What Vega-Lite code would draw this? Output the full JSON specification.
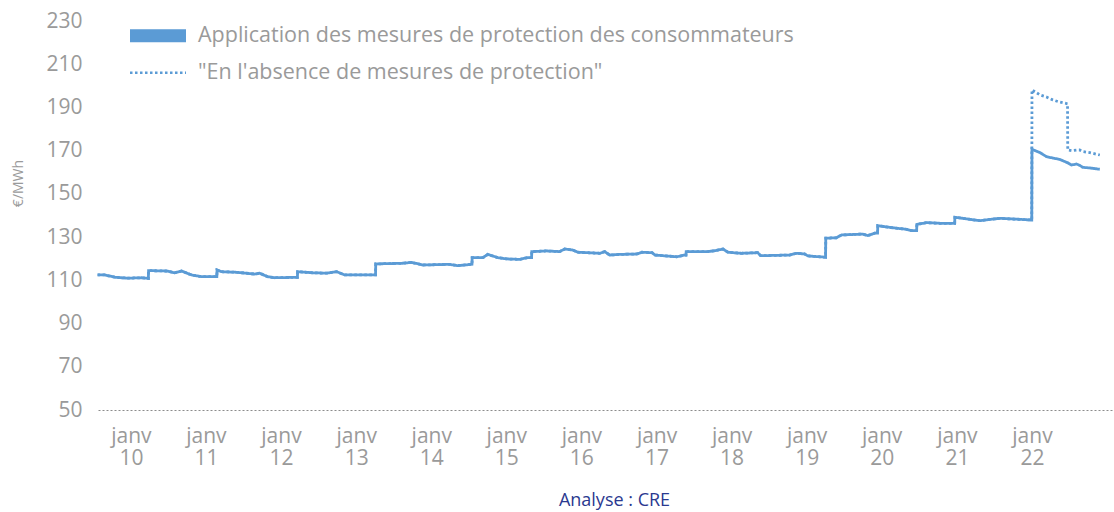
{
  "$schema": "https://vega.github.io/schema/vega-lite/v6.json",
  "width": 1016,
  "height": 389,
  "autosize": {"type": "none"},
  "padding": {"left": 98, "top": 21, "right": 0, "bottom": 102},
  "background": "white",
  "config": {"view": {"stroke": null}, "font": "Open Sans"},
  "data": {"values": [
    {"d": "2009-07-23", "A": 112.5, "B": 112.5},
    {"d": "2009-08-27", "A": 112.5, "B": 112.5},
    {"d": "2009-10-17", "A": 111.4, "B": 111.4},
    {"d": "2009-12-16", "A": 111.0, "B": 111.0},
    {"d": "2010-02-23", "A": 111.2, "B": 111.2},
    {"d": "2010-03-27", "A": 110.9, "B": 110.9},
    {"d": "2010-03-28", "A": 114.5, "B": 114.5},
    {"d": "2010-06-28", "A": 114.3, "B": 114.3},
    {"d": "2010-08-01", "A": 113.5, "B": 113.5},
    {"d": "2010-09-05", "A": 114.3, "B": 114.3},
    {"d": "2010-10-23", "A": 112.5, "B": 112.5},
    {"d": "2010-12-11", "A": 111.7, "B": 111.7},
    {"d": "2011-02-23", "A": 111.7, "B": 111.7},
    {"d": "2011-02-24", "A": 114.8, "B": 114.8},
    {"d": "2011-03-17", "A": 114.0, "B": 114.0},
    {"d": "2011-06-04", "A": 113.7, "B": 113.7},
    {"d": "2011-08-26", "A": 112.9, "B": 112.9},
    {"d": "2011-09-19", "A": 113.3, "B": 113.3},
    {"d": "2011-10-28", "A": 111.7, "B": 111.7},
    {"d": "2011-12-01", "A": 111.2, "B": 111.2},
    {"d": "2012-03-21", "A": 111.4, "B": 111.4},
    {"d": "2012-03-22", "A": 114.0, "B": 114.0},
    {"d": "2012-06-03", "A": 113.5, "B": 113.5},
    {"d": "2012-08-10", "A": 113.3, "B": 113.3},
    {"d": "2012-09-28", "A": 114.0, "B": 114.0},
    {"d": "2012-11-06", "A": 112.5, "B": 112.5},
    {"d": "2013-04-05", "A": 112.5, "B": 112.5},
    {"d": "2013-04-06", "A": 117.6, "B": 117.6},
    {"d": "2013-08-15", "A": 117.9, "B": 117.9},
    {"d": "2013-09-28", "A": 118.3, "B": 118.3},
    {"d": "2013-11-21", "A": 117.1, "B": 117.1},
    {"d": "2014-03-31", "A": 117.4, "B": 117.4},
    {"d": "2014-05-09", "A": 116.8, "B": 116.8},
    {"d": "2014-07-18", "A": 117.4, "B": 117.4},
    {"d": "2014-07-19", "A": 120.5, "B": 120.5},
    {"d": "2014-09-09", "A": 120.5, "B": 120.5},
    {"d": "2014-10-03", "A": 122.0, "B": 122.0},
    {"d": "2014-11-21", "A": 120.5, "B": 120.5},
    {"d": "2015-01-04", "A": 119.9, "B": 119.9},
    {"d": "2015-03-06", "A": 119.7, "B": 119.7},
    {"d": "2015-04-15", "A": 120.5, "B": 120.5},
    {"d": "2015-05-04", "A": 120.5, "B": 120.5},
    {"d": "2015-05-05", "A": 123.3, "B": 123.3},
    {"d": "2015-07-16", "A": 123.6, "B": 123.6},
    {"d": "2015-09-18", "A": 123.3, "B": 123.3},
    {"d": "2015-10-12", "A": 124.5, "B": 124.5},
    {"d": "2015-11-21", "A": 124.0, "B": 124.0},
    {"d": "2015-12-15", "A": 123.0, "B": 123.0},
    {"d": "2016-03-31", "A": 122.5, "B": 122.5},
    {"d": "2016-04-24", "A": 123.3, "B": 123.3},
    {"d": "2016-05-18", "A": 121.7, "B": 121.7},
    {"d": "2016-07-06", "A": 122.0, "B": 122.0},
    {"d": "2016-09-28", "A": 122.2, "B": 122.2},
    {"d": "2016-10-22", "A": 123.0, "B": 123.0},
    {"d": "2016-12-10", "A": 122.8, "B": 122.8},
    {"d": "2016-12-24", "A": 121.7, "B": 121.7},
    {"d": "2017-04-09", "A": 120.9, "B": 120.9},
    {"d": "2017-05-18", "A": 121.7, "B": 121.7},
    {"d": "2017-05-24", "A": 121.7, "B": 121.7},
    {"d": "2017-05-25", "A": 123.3, "B": 123.3},
    {"d": "2017-09-08", "A": 123.3, "B": 123.3},
    {"d": "2017-10-11", "A": 123.7, "B": 123.7},
    {"d": "2017-11-20", "A": 124.5, "B": 124.5},
    {"d": "2017-12-14", "A": 123.0, "B": 123.0},
    {"d": "2018-02-16", "A": 122.5, "B": 122.5},
    {"d": "2018-05-08", "A": 122.8, "B": 122.8},
    {"d": "2018-05-22", "A": 121.4, "B": 121.4},
    {"d": "2018-10-10", "A": 121.7, "B": 121.7},
    {"d": "2018-11-13", "A": 122.5, "B": 122.5},
    {"d": "2018-12-22", "A": 122.2, "B": 122.2},
    {"d": "2019-01-07", "A": 121.3, "B": 121.3},
    {"d": "2019-04-03", "A": 120.7, "B": 120.7},
    {"d": "2019-04-04", "A": 129.5, "B": 129.5},
    {"d": "2019-05-26", "A": 129.7, "B": 129.7},
    {"d": "2019-06-20", "A": 131.0, "B": 131.0},
    {"d": "2019-10-01", "A": 131.4, "B": 131.4},
    {"d": "2019-10-25", "A": 130.7, "B": 130.7},
    {"d": "2019-11-28", "A": 131.8, "B": 131.8},
    {"d": "2019-12-12", "A": 131.8, "B": 131.8},
    {"d": "2019-12-13", "A": 135.3, "B": 135.3},
    {"d": "2020-02-09", "A": 134.5, "B": 134.5},
    {"d": "2020-05-01", "A": 133.6, "B": 133.6},
    {"d": "2020-05-26", "A": 133.0, "B": 133.0},
    {"d": "2020-06-19", "A": 133.0, "B": 133.0},
    {"d": "2020-06-20", "A": 135.9, "B": 135.9},
    {"d": "2020-08-07", "A": 136.7, "B": 136.7},
    {"d": "2020-10-09", "A": 136.4, "B": 136.4},
    {"d": "2020-12-21", "A": 136.4, "B": 136.4},
    {"d": "2020-12-22", "A": 139.2, "B": 139.2},
    {"d": "2021-04-21", "A": 137.6, "B": 137.6},
    {"d": "2021-07-27", "A": 138.7, "B": 138.7},
    {"d": "2021-10-18", "A": 138.3, "B": 138.3},
    {"d": "2021-12-31", "A": 137.9, "B": 137.9},
    {"d": "2022-01-01", "A": 170.6, "B": 198.1},
    {"d": "2022-02-09", "A": 169.1, "B": 195.8},
    {"d": "2022-03-13", "A": 167.2, "B": 194.8},
    {"d": "2022-04-12", "A": 166.6, "B": 193.5},
    {"d": "2022-05-15", "A": 166.0, "B": 192.5},
    {"d": "2022-06-23", "A": 164.4, "B": 191.7},
    {"d": "2022-06-24", "A": 164.4, "B": 170.3},
    {"d": "2022-07-12", "A": 163.4, "B": 170.0},
    {"d": "2022-08-06", "A": 163.8, "B": 170.3},
    {"d": "2022-08-21", "A": 163.2, "B": 170.3},
    {"d": "2022-09-05", "A": 162.3, "B": 169.6},
    {"d": "2022-10-09", "A": 162.0, "B": 169.1},
    {"d": "2022-11-27", "A": 161.4, "B": 168.0}
  ]},
  "transform": [{"fold": ["A", "B"], "as": ["s", "v"]}],
  "mark": {"type": "line", "interpolate": "linear", "strokeWidth": 2.8},
  "encoding": {
    "x": {
      "field": "d", "type": "temporal",
      "scale": {"type": "utc", "domain": [{"year": 2009, "month": 7, "date": 25, "utc": true}, {"year": 2023, "month": 2, "date": 4, "utc": true}]},
      "axis": {
        "values": [
          {"year": 2010, "month": 1, "date": 1, "utc": true},
          {"year": 2011, "month": 1, "date": 1, "utc": true},
          {"year": 2012, "month": 1, "date": 1, "utc": true},
          {"year": 2013, "month": 1, "date": 1, "utc": true},
          {"year": 2014, "month": 1, "date": 1, "utc": true},
          {"year": 2015, "month": 1, "date": 1, "utc": true},
          {"year": 2016, "month": 1, "date": 1, "utc": true},
          {"year": 2017, "month": 1, "date": 1, "utc": true},
          {"year": 2018, "month": 1, "date": 1, "utc": true},
          {"year": 2019, "month": 1, "date": 1, "utc": true},
          {"year": 2020, "month": 1, "date": 1, "utc": true},
          {"year": 2021, "month": 1, "date": 1, "utc": true},
          {"year": 2022, "month": 1, "date": 1, "utc": true}
        ],
        "labelExpr": "['janv', utcFormat(datum.value, '%y')]",
        "grid": false, "ticks": false,
        "domainDash": [2, 2], "domainColor": "#8c8c8c", "domainWidth": 1,
        "labelFontSize": 21, "labelColor": "#9a9a9a", "labelLineHeight": 22,
        "labelPadding": 15, "labelAlign": "center", "labelFlush": false, "labelOverlap": false,
        "title": "Analyse : CRE", "titleColor": "#2b3990", "titleFontSize": 18, "titleFontWeight": "normal",
        "titleX": 516, "titleY": 90, "titleAlign": "center", "titleBaseline": "middle", "titleAnchor": null
      }
    },
    "y": {
      "field": "v", "type": "quantitative",
      "scale": {"domain": [50, 230], "nice": false, "zero": false},
      "axis": {
        "values": [50, 70, 90, 110, 130, 150, 170, 190, 210, 230],
        "grid": false, "domain": false, "ticks": false,
        "labelPadding": 16, "labelFontSize": 21, "labelColor": "#9a9a9a",
        "title": "€/MWh", "titleFontSize": 14, "titleColor": "#9a9a9a", "titleFontWeight": "normal",
        "titleX": -80, "titleY": 162, "titleAngle": -90, "titleAlign": "center", "titleBaseline": "middle"
      }
    },
    "color": {
      "field": "s", "type": "nominal",
      "scale": {"domain": ["A", "B"], "range": ["#5b9bd5", "#5b9bd5"]},
      "legend": {
        "title": null, "orient": "none", "legendX": 32, "legendY": 4, "direction": "vertical",
        "symbolType": "stroke", "symbolSize": 3136, "symbolStrokeWidth": 0, "rowPadding": -21, "padding": 0,
        "labelFontSize": 21.5, "labelColor": "#9a9a9a", "labelOffset": 12, "labelLimit": 0,
        "labelExpr": "datum.value == 'A' ? 'Application des mesures de protection des consommateurs' : '\"En l\\'absence de mesures de protection\"'",
        "encode": {
          "symbols": {"enter": {"strokeWidth": {"signal": "datum.value == 'A' ? 13 : 2.5"}}, "update": {"x": {"value": 28}, "strokeWidth": {"signal": "datum.value == 'A' ? 13 : 2.5"}}},
          "labels": {"update": {"x": {"value": 68}}}
        }
      }
    },
    "strokeDash": {
      "field": "s", "type": "nominal",
      "scale": {"domain": ["A", "B"], "range": [[1, 0], [2.5, 2.5]]},
      "legend": {
        "title": null, "orient": "none", "legendX": 32, "legendY": 4, "direction": "vertical",
        "symbolType": "stroke", "symbolSize": 3136, "symbolStrokeWidth": 0, "rowPadding": -21, "padding": 0,
        "labelFontSize": 21.5, "labelColor": "#9a9a9a", "labelOffset": 12, "labelLimit": 0,
        "labelExpr": "datum.value == 'A' ? 'Application des mesures de protection des consommateurs' : '\"En l\\'absence de mesures de protection\"'",
        "encode": {
          "symbols": {"enter": {"strokeWidth": {"signal": "datum.value == 'A' ? 13 : 2.5"}}, "update": {"x": {"value": 28}, "strokeWidth": {"signal": "datum.value == 'A' ? 13 : 2.5"}}},
          "labels": {"update": {"x": {"value": 68}}}
        }
      }
    }
  }
}
